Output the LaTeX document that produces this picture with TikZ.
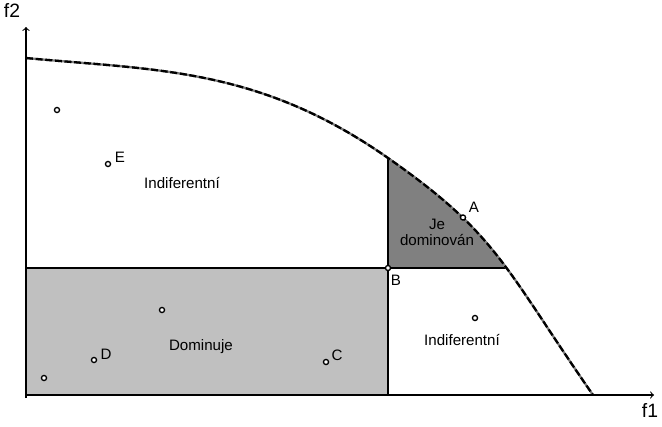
\documentclass[tikz,border=0pt]{standalone}
\usepackage{fontspec}
\setmainfont{Liberation Sans}
\usepackage{xcolor}
\usepackage{tikz}

\definecolor{lightregion}{HTML}{C0C0C0}
\definecolor{darkregion}{HTML}{808080}

\tikzset{
    front/.style={insert path={(26,58) .. controls (156,70.4) and (258,67) .. (388,158)
        .. controls (498,235) and (503,265.4) .. (593,395)}}
}

\begin{document}
\begin{tikzpicture}[x=0.02cm,y=-0.02cm,line width=0.6pt,
    font=\fontsize{8.6}{10}\selectfont,
    pt/.style={circle,draw,fill=white,inner sep=0pt,minimum size=2.9pt,line width=0.75pt},
    lbl/.style={inner sep=0pt},
    axlbl/.style={inner sep=0pt,font=\fontsize{11}{13}\selectfont}]
    \useasboundingbox (0,0) rectangle (662,426);

    % Dominated region (light)
    \fill[lightregion] (26,268) rectangle (388,395);

    % Dominating region (dark), bounded by the front
    \begin{scope}
        \clip (388,0) rectangle (662,268);
        \fill[darkregion] [front] -- (593,430) -- (26,430) -- cycle;
    \end{scope}

    % Region borders
    \coordinate (topB) at (388,158);
    \coordinate (botB) at (388,395);
    \coordinate (leftB) at (26,268);
    \coordinate (rightB) at (506.5,268);
    \draw (topB) -- (botB);
    \draw (leftB) -- (rightB);

    % Front
    \draw[line width=1.3pt,darkregion] [front];
    \draw[line width=1.3pt,dash pattern=on 4pt off 1.5pt] [front];

    % Axes
    \coordinate (O) at (26,398);
    \coordinate (yend) at (26,27);
    \coordinate (xstart) at (26,395);
    \coordinate (xend) at (654,395);
    \draw[->] (O) -- (yend);
    \draw[->] (xstart) -- (xend);
    \node[axlbl] (f2) at (12,11) {f2};
    \node[axlbl] (f1) at (650,411) {f1};

    % Points
    \node[pt] (pA) at (463,217.5) {};
    \node[pt] (pB) at (388,268) {};
    \node[pt] (pC) at (326,362) {};
    \node[pt] (pD) at (94,360) {};
    \node[pt] (pE) at (108,164) {};
    \node[pt] (p1) at (57,110) {};
    \node[pt] (p2) at (162,310) {};
    \node[pt] (p3) at (44,378) {};
    \node[pt] (p4) at (475,318) {};

    % Point labels
    \node[lbl] (lA) at (474,207) {A};
    \node[lbl] (lB) at (396,280) {B};
    \node[lbl] (lC) at (337,355) {C};
    \node[lbl] (lD) at (106,354) {D};
    \node[lbl] (lE) at (120,157) {E};

    % Region labels
    \node[lbl] (indif1) at (182,183) {Indiferentní};
    \node[lbl,align=center] (domin) at (437,232) {Je\\[-1pt]dominován};
    \node[lbl] (dominuje) at (201,347) {Dominuje};
    \node[lbl] (indif2) at (462,340) {Indiferentní};
\end{tikzpicture}
\end{document}
